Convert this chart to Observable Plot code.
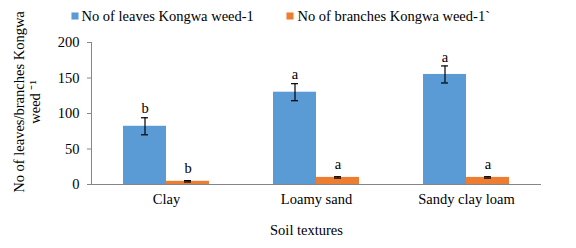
<!DOCTYPE html>
<html>
<head>
<meta charset="utf-8">
<script src="https://cdn.jsdelivr.net/npm/d3@7"></script>
<script src="https://cdn.jsdelivr.net/npm/@observablehq/plot@0.6"></script>
<style>
  html, body { margin: 0; padding: 0; background: #fff; }
  #chart svg { font-family: "Liberation Serif", "Times New Roman", serif !important; }
  #chart svg text { fill: #000; font-family: "Liberation Serif", "Times New Roman", serif; }
</style>
</head>
<body>
<div id="chart"></div>
<script>
const categories = ["Clay", "Loamy sand", "Sandy clay loam"];
const leaves = [82, 130, 155];
const leavesErr = [12, 12, 12];
const branches = [4.5, 10, 10];
const branchesErr = [1, 1, 1];
const leavesLetters = ["b", "a", "a"];
const branchesLetters = ["b", "a", "a"];
const yTicks = [0, 50, 100, 150, 200];
const seriesNames = ["No of leaves Kongwa weed-1", "No of branches Kongwa weed-1`"];
const xTitle = "Soil textures";
const yTitle1 = "No of leaves/branches Kongwa";
const yTitle2 = "weed \u207B\u00B9";

const blue = "#5B9BD5";
const orange = "#ED7D31";

const leafData = categories.map((c, i) => ({cat: c, v: leaves[i], e: leavesErr[i], l: leavesLetters[i]}));
const branchData = categories.map((c, i) => ({cat: c, v: branches[i], e: branchesErr[i], l: branchesLetters[i]}));

const chart = Plot.plot({
  width: 576,
  height: 248,
  marginLeft: 91,
  marginRight: 35,
  marginTop: 42,
  marginBottom: 64,
  style: {fontFamily: "'Liberation Serif', 'Times New Roman', serif", fontSize: "14.5px", color: "#868686", background: "#fff"},
  x: {domain: categories, padding: 0, tickSize: 0, tickPadding: 9, label: null},
  y: {domain: [0, 200], ticks: yTicks, tickSize: 4, tickPadding: 8, label: null, line: true},
  marks: [
    Plot.barY(leafData, {x: "cat", y: "v", fill: blue, insetLeft: 32, insetRight: 75}),
    Plot.barY(branchData, {x: "cat", y: "v", fill: orange, insetLeft: 75, insetRight: 32}),
    Plot.ruleY([0], {stroke: "#868686"}),
    Plot.ruleX(leafData, {x: "cat", y1: d => d.v - d.e, y2: d => d.v + d.e, dx: -21.5, stroke: "#000", strokeWidth: 1.2}),
    Plot.tickY(leafData, {x: "cat", y: d => d.v - d.e, insetLeft: 50, insetRight: 93, stroke: "#000", strokeWidth: 1.2}),
    Plot.tickY(leafData, {x: "cat", y: d => d.v + d.e, insetLeft: 50, insetRight: 93, stroke: "#000", strokeWidth: 1.2}),
    Plot.ruleX(branchData, {x: "cat", y1: d => d.v - d.e, y2: d => d.v + d.e, dx: 21.5, stroke: "#000", strokeWidth: 1.2}),
    Plot.tickY(branchData, {x: "cat", y: d => d.v - d.e, insetLeft: 93, insetRight: 50, stroke: "#000", strokeWidth: 1.2}),
    Plot.tickY(branchData, {x: "cat", y: d => d.v + d.e, insetLeft: 93, insetRight: 50, stroke: "#000", strokeWidth: 1.2}),
    Plot.text(leafData, {x: "cat", y: d => d.v + d.e, text: "l", dx: -21.5, dy: -9, lineAnchor: "middle", fill: "#000"}),
    Plot.text(branchData, {x: "cat", y: d => d.v + d.e, text: "l", dx: 21.5, dy: -12, lineAnchor: "middle", fill: "#000"}),
    // legend
    Plot.dot([seriesNames[0]], {frameAnchor: "top-left", dx: 74.5 - 91, dy: 15.5 - 42, symbol: "square", r: 4, fill: blue, stroke: null}),
    Plot.text([seriesNames[0]], {frameAnchor: "top-left", text: d => d, textAnchor: "start", lineAnchor: "middle", dx: 81 - 91, dy: 15.5 - 42, fill: "#000"}),
    Plot.dot([seriesNames[1]], {frameAnchor: "top-left", dx: 289.5 - 91, dy: 15.5 - 42, symbol: "square", r: 4, fill: orange, stroke: null}),
    Plot.text([seriesNames[1]], {frameAnchor: "top-left", text: d => d, textAnchor: "start", lineAnchor: "middle", dx: 297 - 91, dy: 15.5 - 42, fill: "#000"}),
    // axis titles
    Plot.text([xTitle], {frameAnchor: "bottom", text: d => d, lineAnchor: "middle", textAnchor: "middle", dx: -10, dy: 46, fill: "#000"}),
    Plot.text([yTitle1], {frameAnchor: "left", text: d => d, rotate: -90, textAnchor: "middle", lineAnchor: "middle", dx: 18.5 - 91, dy: -11.5, fill: "#000"}),
    Plot.text([yTitle2], {frameAnchor: "left", text: d => d, rotate: -90, textAnchor: "middle", lineAnchor: "middle", dx: 35 - 91, dy: -11.5, fill: "#000"})
  ]
});
document.getElementById("chart").appendChild(chart);
</script>
</body>
</html>
